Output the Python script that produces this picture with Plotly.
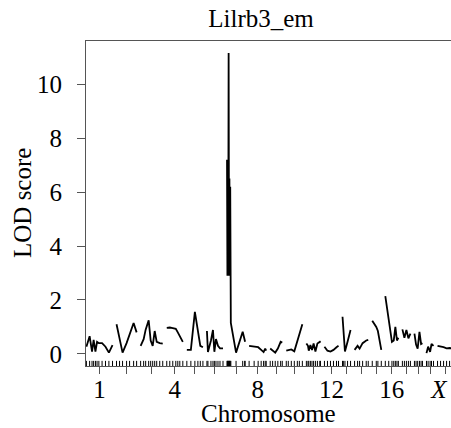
import plotly.graph_objects as go

# ---- data -------------------------------------------------------------
chr_names = ["1", "2", "3", "4", "5", "6", "7", "8", "9", "10",
             "11", "12", "13", "14", "15", "16", "17", "18", "19", "X"]
chr_labels = ["1", "", "", "4", "", "", "", "8", "", "",
              "", "12", "", "", "", "16", "", "", "", "<i>X</i>\u00a0\u00a0"]

# marker positions (cM within chromosome) and LOD scores
marker_pos = [
    [0, 16, 28, 36, 45, 53, 62, 78, 95, 112, 130],
    [0, 15, 30, 50, 65, 85, 100],
    [0, 15, 25, 40, 50, 60, 70, 80, 95, 110],
    [0, 15, 30, 45, 55, 65, 80],
    [0, 20, 40, 55, 67, 80],
    [0, 5, 20, 30, 37, 45, 55, 65, 80],
    [0, 2, 4, 6, 8, 10, 12, 14, 16, 19, 45, 78, 88, 90],
    [0, 25, 45, 60, 72, 80, 85],
    [0, 12, 25, 38, 52, 60],
    [0, 10, 25, 40, 55, 65, 80],
    [0, 8, 12, 20, 28, 36, 45, 55, 67, 70],
    [0, 15, 30, 45, 60, 70],
    [0, 4, 12, 25, 40],
    [0, 15, 25, 40, 58, 68],
    [0, 20, 28, 45],
    [0, 17, 33, 42, 50, 58, 65],
    [0, 10, 20, 30, 40],
    [0, 8, 16, 25, 33, 40],
    [0, 8, 18, 25, 35],
    [0, 15, 30, 45, 60, 75],
]
lod = [
    [0.27, 0.66, 0.09, 0.52, 0.09, 0.45, 0.40, 0.40, 0.27, 0.05, 0.33],
    [1.10, 0.60, 0.05, 0.40, 0.75, 1.15, 0.80],
    [0.30, 0.55, 0.90, 1.25, 0.50, 0.30, 0.85, 0.45, 0.40, 0.38],
    [0.97, 0.98, 0.96, 0.93, 0.80, 0.65, 0.45],
    [0.15, 0.15, 1.56, 0.85, 0.30, 0.25],
    [0.85, 0.07, 0.50, 0.89, 0.08, 0.55, 0.30, 0.21, 0.21],
    [7.20, 2.90, 6.00, 2.90, 11.15, 2.90, 6.50, 2.90, 6.20, 1.15, 0.05, 0.82, 0.45, 0.45],
    [0.30, 0.28, 0.25, 0.15, 0.07, 0.20, 0.12],
    [0.20, 0.12, 0.05, 0.20, 0.45, 0.42],
    [0.12, 0.15, 0.17, 0.10, 0.50, 0.70, 1.10],
    [0.39, 0.30, 0.12, 0.33, 0.15, 0.39, 0.09, 0.39, 0.45, 0.42],
    [0.27, 0.12, 0.09, 0.15, 0.25, 0.30],
    [1.38, 0.85, 0.09, 0.45, 0.89],
    [0.15, 0.30, 0.20, 0.40, 0.50, 0.52],
    [1.23, 1.00, 0.85, 0.15],
    [2.14, 1.25, 0.45, 0.50, 1.00, 0.50, 0.60],
    [0.91, 0.60, 0.89, 0.58, 0.75],
    [0.75, 0.35, 0.20, 0.82, 0.37, 0.40],
    [0.03, 0.27, 0.08, 0.37, 0.30],
    [0.30, 0.28, 0.25, 0.21, 0.22, 0.20],
]
title_text = "Lilrb3_em"
y_ticks = [0, 2, 4, 6, 8, 10]
gap = 20  # cM between chromosomes

# ---- layout computations --------------------------------------------
offsets = []
cur = 0
for p in marker_pos:
    offsets.append(cur)
    cur += max(p) + gap
total = cur - gap
mids = [o + max(p) / 2 for o, p in zip(offsets, marker_pos)]

ymax = max(max(l) for l in lod)
ypad = 0.04 * ymax
yr = [-ypad, ymax + ypad]

FONT = "Liberation Serif"
AX = "#555555"

fig = go.Figure()
for o, p, l in zip(offsets, marker_pos, lod):
    fig.add_trace(go.Scatter(
        x=[o + v for v in p], y=l, mode="lines",
        line=dict(color="black", width=1.8),
        showlegend=False, hoverinfo="skip"))

# rug of marker positions
rug_x = [o + v for o, p in zip(offsets, marker_pos) for v in p]
rug_h = 0.19
fig.add_trace(go.Scatter(
    x=rug_x, y=[yr[0]] * len(rug_x), mode="markers",
    marker=dict(size=0.1, color="black", opacity=0),
    error_y=dict(type="data", symmetric=False, array=[rug_h] * len(rug_x),
                 arrayminus=[0] * len(rug_x), width=0, thickness=1, color="black"),
    showlegend=False, hoverinfo="skip"))

fig.update_layout(
    width=451, height=428,
    margin=dict(l=86, r=0, t=41, b=62, autoexpand=False),
    paper_bgcolor="white", plot_bgcolor="white",
    font=dict(family=FONT, size=25, color="black"),
    title=dict(text=title_text, x=261 / 451, xref="container", xanchor="center",
               y=1 - 18 / 428, yref="container", yanchor="middle",
               font=dict(family=FONT, size=25, color="black")),
    xaxis=dict(range=[-2, total - 8], showgrid=False, zeroline=False,
               automargin=False, ticklabeloverflow="allow",
               showline=True, linecolor=AX, linewidth=1, mirror=True,
               tickmode="array", tickvals=mids, ticktext=chr_labels,
               ticks="outside", ticklen=7, tickcolor=AX, tickwidth=1,
               ticklabelstandoff=-6,
               tickfont=dict(family=FONT, size=25)),
    yaxis=dict(range=yr, showgrid=False, zeroline=False,
               automargin=False, ticklabeloverflow="allow",
               showline=True, linecolor=AX, linewidth=1,
               tickmode="array", tickvals=y_ticks,
               ticks="outside", ticklen=8, tickcolor=AX, tickwidth=1,
               ticklabelstandoff=10,
               tickfont=dict(family=FONT, size=25)),
    annotations=[
        dict(text="Chromosome", xref="paper", yref="paper",
             x=(268 - 86) / 365, y=(366 - 413) / 325, xanchor="center",
             yanchor="middle", showarrow=False,
             font=dict(family=FONT, size=25)),
        dict(text="LOD score", xref="paper", yref="paper",
             x=(22 - 86) / 365, y=(366 - 203) / 325, xanchor="center",
             yanchor="middle", textangle=-90, showarrow=False,
             font=dict(family=FONT, size=25)),
    ],
)

fig.write_html("out.html",
               config={"displayModeBar": False},
               post_script="document.body.style.margin='0';"
                           "document.body.style.overflow='hidden';")
